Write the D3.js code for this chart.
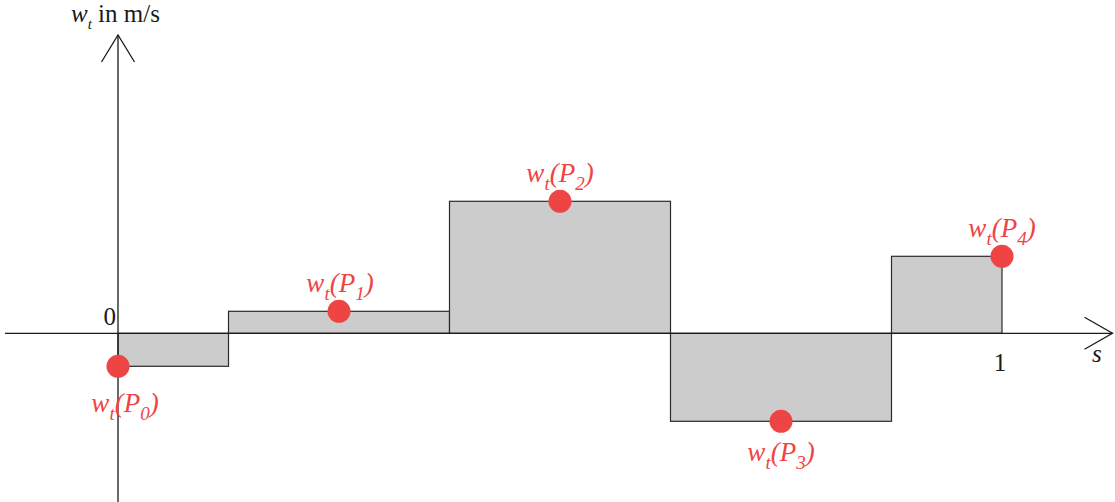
<!DOCTYPE html>
<html>
<head>
<meta charset="utf-8">
<script src="https://cdn.jsdelivr.net/npm/d3@7/dist/d3.min.js"></script>
<style>
  html, body { margin: 0; padding: 0; background: #fff; }
  svg { display: block; }
  text { font-family: "Liberation Serif", "Times New Roman", serif; }
</style>
</head>
<body>
<svg id="chart" width="1115" height="502"></svg>
<script>
// Sample points P0..P4 along s in [0, 1] and the value w_t measured at each
const pointNames = ["0", "1", "2", "3", "4"];
const sValues = [0, 0.25, 0.5, 0.75, 1];
const wValues = [-1.5, 1, 6, -4, 3.5];
const xTickLabels = ["1"];
const yTickLabels = ["0"];

// label placement relative to each point (pixels)
const labelDx = [7, 1, 0, 0, 0];
const labelDy = [46, -19, -19, 40, -19];

const svg = d3.select("#chart");

const x = d3.scaleLinear().domain([0, 1]).range([118, 1002]);
const y = d3.scaleLinear().domain([0, 1]).range([333.3, 311.3]);

const ink = "#1a1a1a";
const red = "#ef4444";

// piecewise-constant cells: each point holds its value up to the midpoints
const cells = sValues.map((s, i) => {
  const lo = i === 0 ? s : (sValues[i - 1] + s) / 2;
  const hi = i === sValues.length - 1 ? s : (s + sValues[i + 1]) / 2;
  return { lo, hi, v: wValues[i] };
});

svg.append("g").selectAll("rect")
  .data(cells)
  .join("rect")
  .attr("x", d => x(d.lo))
  .attr("width", d => x(d.hi) - x(d.lo))
  .attr("y", d => Math.min(y(d.v), y(0)))
  .attr("height", d => Math.abs(y(d.v) - y(0)))
  .attr("fill", "#cccccc")
  .attr("stroke", "#2a2a2a")
  .attr("stroke-width", 1.2);

// axes with open arrowheads
const axes = svg.append("g").attr("fill", "none").attr("stroke", ink).attr("stroke-width", 1.3);
const x0 = x(0), y0 = y(0);
const xEnd = 1112.5, yTop = 35, yBottom = 502, xStart = 5;
axes.append("line").attr("x1", xStart).attr("x2", xEnd).attr("y1", y0).attr("y2", y0);
axes.append("polyline").attr("points", `${xEnd - 28},${y0 - 16} ${xEnd},${y0} ${xEnd - 28},${y0 + 16}`);
axes.append("line").attr("x1", x0).attr("x2", x0).attr("y1", yBottom).attr("y2", yTop);
axes.append("polyline").attr("points", `${x0 - 16.5},${yTop + 27} ${x0},${yTop} ${x0 + 16.5},${yTop + 27}`);

// tick labels
svg.append("text").attr("x", x(0) - 2).attr("y", y(0) - 8)
  .attr("text-anchor", "end").attr("font-size", 25).attr("fill", ink).text(yTickLabels[0]);
svg.append("text").attr("x", x(1) - 2).attr("y", y(0) + 38)
  .attr("text-anchor", "middle").attr("font-size", 25).attr("fill", ink).text(xTickLabels[0]);

// axis titles
svg.append("text").attr("x", 1092).attr("y", 362)
  .attr("font-size", 25).attr("font-style", "italic").attr("fill", ink).text("s");

const yTitle = svg.append("text").attr("x", 71).attr("y", 22).attr("font-size", 25).attr("fill", ink);
yTitle.append("tspan").attr("font-style", "italic").text("w");
yTitle.append("tspan").attr("font-style", "italic").attr("font-size", 15).attr("dy", 7).text("t");
yTitle.append("tspan").attr("dy", -7).text(" in m/s");

// points
svg.append("g").selectAll("circle")
  .data(sValues.map((s, i) => ({ s, v: wValues[i] })))
  .join("circle")
  .attr("cx", d => x(d.s))
  .attr("cy", d => y(d.v))
  .attr("r", 11.5)
  .attr("fill", red);

// point labels w_t(P_i)
const labels = svg.append("g").selectAll("text")
  .data(sValues.map((s, i) => ({ s, v: wValues[i], name: pointNames[i], dx: labelDx[i], dy: labelDy[i] })))
  .join("text")
  .attr("x", d => x(d.s) + d.dx)
  .attr("y", d => y(d.v) + d.dy)
  .attr("text-anchor", "middle")
  .attr("font-size", 27)
  .attr("font-style", "italic")
  .attr("fill", red);

labels.append("tspan").text("w");
labels.append("tspan").attr("font-size", 19).attr("dy", 8).text("t");
labels.append("tspan").attr("dy", -8).text("(P");
labels.append("tspan").attr("font-size", 19).attr("dy", 8).text(d => d.name);
labels.append("tspan").attr("dy", -8).text(")");
</script>
</body>
</html>
